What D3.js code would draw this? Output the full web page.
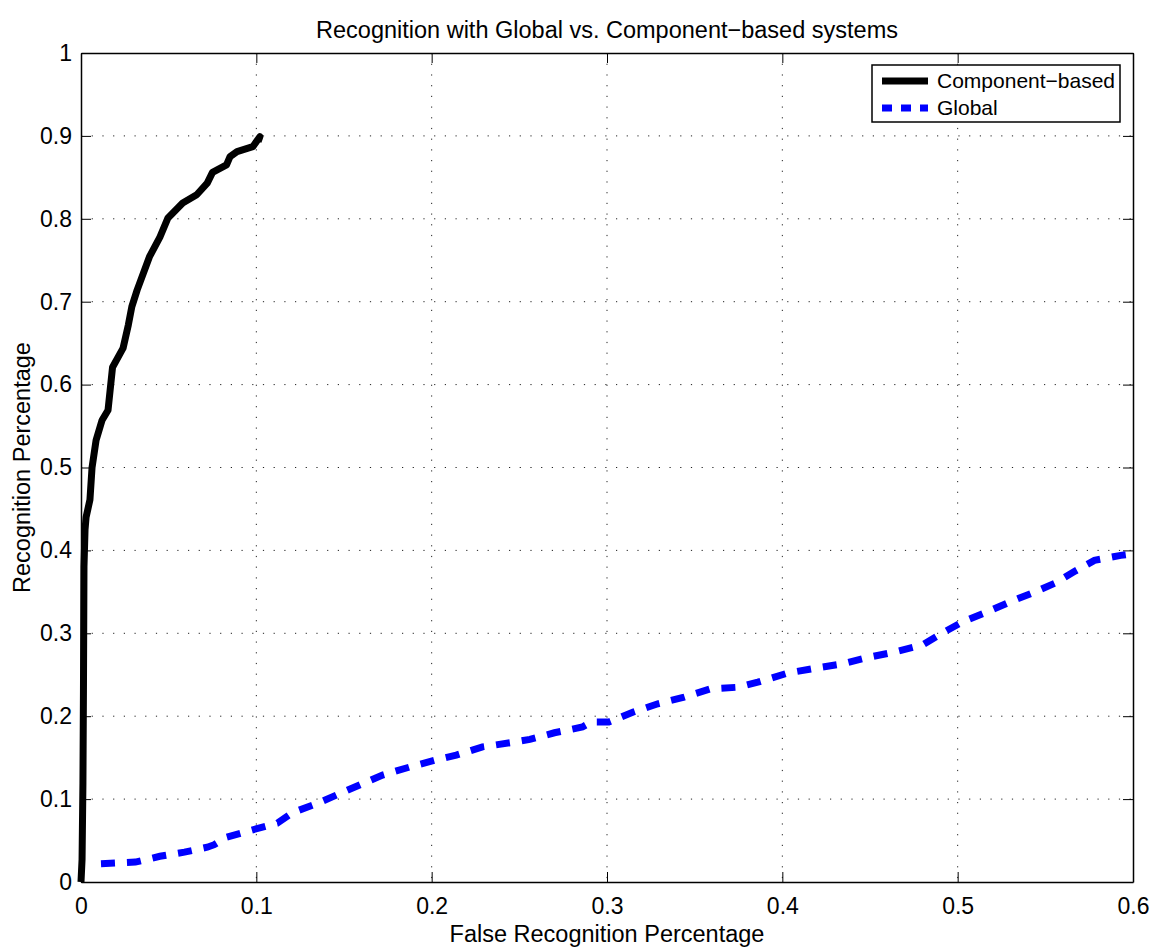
<!DOCTYPE html>
<html lang="en">
<head>
  <meta charset="UTF-8">
  <title>Recognition with Global vs. Component-based systems</title>
  <style>
    body { margin: 0; background: #fff; }
    svg { display: block; font-family: "Liberation Sans", Arial, sans-serif; }
    .axis path, .axis line { stroke: #000; }
    .axis text { font-size: 23px; fill: #000; }
    .grid line { stroke: #222; stroke-width: 1; stroke-dasharray: 1.2, 9.5; }
  </style>
</head>
<body>
  <script src="https://d3js.org/d3.v7.min.js"></script>
  <script>
    // data
    const xTicks = [0, 0.1, 0.2, 0.3, 0.4, 0.5, 0.6];
    const yTicks = [0, 0.1, 0.2, 0.3, 0.4, 0.5, 0.6, 0.7, 0.8, 0.9, 1];

    const componentX = [0, 0.0006, 0.0011, 0.0014, 0.0017, 0.0023, 0.0029, 0.0051, 0.0063, 0.0086, 0.012, 0.0154,
      0.018, 0.024, 0.027, 0.029, 0.032, 0.039, 0.045, 0.0496, 0.058, 0.066, 0.072, 0.075, 0.083, 0.085,
      0.089, 0.098, 0.102, 0.101];
    const componentY = [0, 0.027, 0.119, 0.232, 0.38, 0.425, 0.44, 0.461, 0.5, 0.533, 0.557, 0.569,
      0.621, 0.644, 0.672, 0.694, 0.714, 0.754, 0.778, 0.801, 0.819, 0.829, 0.843, 0.856, 0.865, 0.875,
      0.881, 0.887, 0.899, 0.893];

    const globalX = [0.0114, 0.031, 0.045, 0.059, 0.072, 0.076, 0.083, 0.098, 0.112, 0.121, 0.135, 0.148, 0.161,
      0.172, 0.188, 0.202, 0.214, 0.229, 0.245, 0.256, 0.270, 0.286, 0.291, 0.301, 0.315, 0.329, 0.344,
      0.359, 0.375, 0.386, 0.403, 0.419, 0.434, 0.449, 0.463, 0.480, 0.491, 0.503, 0.517, 0.530, 0.543,
      0.556, 0.567, 0.578, 0.593, 0.600];
    const globalY = [0.022, 0.024, 0.031, 0.036, 0.042, 0.045, 0.054, 0.063, 0.071, 0.084, 0.095, 0.107, 0.119,
      0.129, 0.139, 0.147, 0.153, 0.163, 0.168, 0.172, 0.180, 0.187, 0.193, 0.193, 0.205, 0.215, 0.223,
      0.233, 0.235, 0.241, 0.252, 0.258, 0.263, 0.271, 0.277, 0.286, 0.300, 0.314, 0.326, 0.338, 0.349,
      0.361, 0.375, 0.388, 0.394, 0.396];

    const seriesNames = ['Component\u2212based', 'Global'];
    const seriesColors = ['#000000', '#0000ff'];

    // chart properties
    const SVGWIDTH = 1153;
    const SVGHEIGHT = 947;
    const margin = {top: 53, left: 81};
    const innerW = 1052;
    const innerH = 829;

    const svg = d3.select('body').append('svg')
      .attr('width', SVGWIDTH)
      .attr('height', SVGHEIGHT);

    const scaleX = d3.scaleLinear().domain([0, 0.6]).range([0, innerW]);
    const scaleY = d3.scaleLinear().domain([0, 1]).range([innerH, 0]);

    const g = svg.append('g').attr('transform', `translate(${margin.left},${margin.top})`);

    // dotted grid
    g.append('g').attr('class', 'grid')
      .selectAll('line').data(xTicks.slice(1, -1)).enter().append('line')
      .attr('x1', d => scaleX(d)).attr('x2', d => scaleX(d))
      .attr('y1', 0).attr('y2', innerH);
    g.append('g').attr('class', 'grid')
      .selectAll('line').data(yTicks.slice(1, -1)).enter().append('line')
      .attr('y1', d => scaleY(d)).attr('y2', d => scaleY(d))
      .attr('x1', 0).attr('x2', innerW);

    // axes, ticks inward on all sides
    const fmt = d => d === 0 || d === 1 ? String(d) : d.toFixed(1);
    g.append('g').attr('class', 'axis')
      .attr('transform', `translate(0,${innerH})`)
      .call(d3.axisBottom(scaleX).tickValues(xTicks).tickFormat(fmt).tickSizeInner(-10).tickSizeOuter(0).tickPadding(16))
      .call(a => a.select('.domain').attr('stroke-width', 1.5));
    g.append('g').attr('class', 'axis')
      .call(d3.axisTop(scaleX).tickValues(xTicks).tickFormat('').tickSizeInner(-10).tickSizeOuter(0))
      .call(a => a.select('.domain').attr('stroke-width', 1.5));
    g.append('g').attr('class', 'axis')
      .call(d3.axisLeft(scaleY).tickValues(yTicks).tickFormat(fmt).tickSizeInner(-10).tickSizeOuter(0).tickPadding(9))
      .call(a => a.select('.domain').attr('stroke-width', 1.5));
    g.append('g').attr('class', 'axis')
      .attr('transform', `translate(${innerW},0)`)
      .call(d3.axisRight(scaleY).tickValues(yTicks).tickFormat('').tickSizeInner(-10).tickSizeOuter(0))
      .call(a => a.select('.domain').attr('stroke-width', 1.5));

    // lines
    const line = d3.line().x(d => scaleX(d[0])).y(d => scaleY(d[1]));
    const compData = d3.zip(componentX, componentY);
    const globData = d3.zip(globalX, globalY);

    g.append('path').datum(compData)
      .attr('d', line)
      .attr('fill', 'none')
      .attr('stroke', seriesColors[0])
      .attr('stroke-width', 7)
      .attr('stroke-linejoin', 'round');

    g.append('path').datum(globData)
      .attr('d', line)
      .attr('fill', 'none')
      .attr('stroke', seriesColors[1])
      .attr('stroke-width', 7)
      .attr('stroke-dasharray', '14,12');

    // title and axis labels
    svg.append('text')
      .attr('x', margin.left + innerW / 2).attr('y', 38)
      .attr('text-anchor', 'middle').attr('font-size', 23.5)
      .text('Recognition with Global vs. Component\u2212based systems');
    svg.append('text')
      .attr('x', margin.left + innerW / 2).attr('y', 942)
      .attr('text-anchor', 'middle').attr('font-size', 23.5)
      .text('False Recognition Percentage');
    svg.append('text')
      .attr('transform', `translate(30,${margin.top + innerH / 2}) rotate(-90)`)
      .attr('text-anchor', 'middle').attr('font-size', 23.5)
      .text('Recognition Percentage');

    // legend
    const legend = svg.append('g').attr('transform', 'translate(872,65)');
    legend.append('rect')
      .attr('width', 248).attr('height', 57)
      .attr('fill', '#fff').attr('stroke', '#000').attr('stroke-width', 1.5);
    seriesNames.forEach((name, i) => {
      const yy = 16 + i * 27;
      legend.append('line')
        .attr('x1', 10).attr('x2', 56).attr('y1', yy).attr('y2', yy)
        .attr('stroke', seriesColors[i]).attr('stroke-width', 7)
        .attr('stroke-dasharray', i === 1 ? '10,9' : null);
      legend.append('text')
        .attr('x', 65).attr('y', yy + 7)
        .attr('font-size', 21)
        .text(name);
    });
  </script>
</body>
</html>
